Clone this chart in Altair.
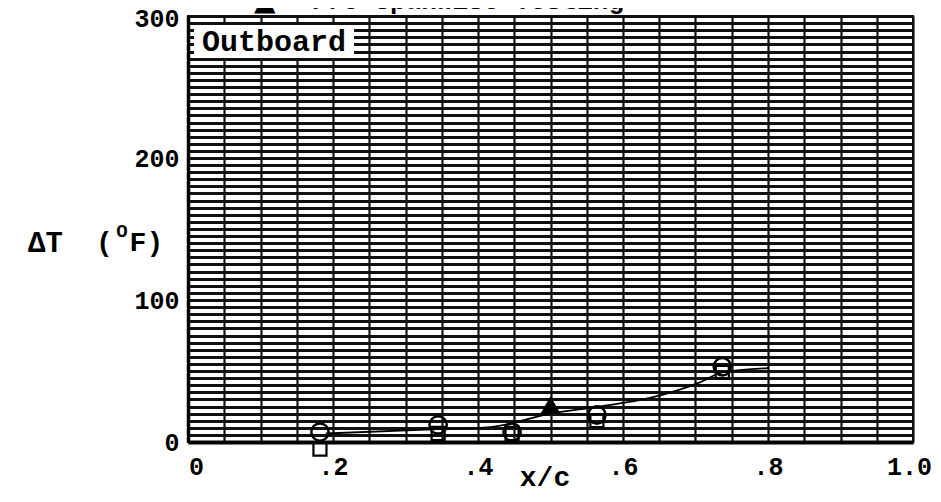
import altair as alt
import pandas as pd

# ---- data ----
circle_x = [0.182, 0.345, 0.447, 0.564, 0.737]
circle_y = [7, 12, 7, 19, 53]
square_x = [0.182, 0.345, 0.447, 0.564, 0.737]
square_y = [-5, 6, 6, 15, 49]
tri_x = [0.50]
tri_y = [26]
curve_x = [0.19, 0.345, 0.417, 0.50, 0.568, 0.637, 0.706, 0.737, 0.80]
curve_y = [6, 9, 10.5, 20, 25, 31, 42, 49, 52]

x_ticks = [i / 20 for i in range(21)]
y_ticks = list(range(0, 301, 5))

FONT = "Liberation Mono"

circles = pd.DataFrame({"x": circle_x, "y": circle_y})
squares = pd.DataFrame({"x": square_x, "y": square_y})
tris = pd.DataFrame({"x": tri_x, "y": tri_y})
curve = pd.DataFrame({"x": curve_x, "y": curve_y})

xs = alt.Scale(domain=[0, 1], nice=False, zero=False)
ys = alt.Scale(domain=[0, 300], nice=False, zero=False)

x_axis = alt.Axis(
    values=x_ticks, grid=True, gridColor="#111", gridWidth=2.2,
    tickSize=0, domain=True, domainColor="#000", domainWidth=4,
    labelExpr="round(datum.value*20) % 4 == 0 ? (datum.value == 0 ? '0' : (datum.value == 1 ? '1.0' : replace(format(datum.value, '.1f'), '0.', '.'))) : ''",
    labelFont=FONT, labelFontSize=25, labelFontWeight="bold", labelColor="#000",
    labelPadding=12, labelFlush=False, labelOverlap=False, title=None,
    labelOffset={"condition": [{"test": "datum.value >= 1", "value": -4},
                               {"test": "datum.value <= 0", "value": 8}],
                 "value": 0},
)
y_axis = alt.Axis(
    values=y_ticks, grid=True, gridColor="#111", gridWidth=2.8,
    tickSize=0, domain=True, domainColor="#000", domainWidth=3.5,
    labelExpr="datum.value % 100 == 0 ? datum.label : ''",
    labelFont=FONT, labelFontSize=25, labelFontWeight="bold", labelColor="#000",
    labelPadding=9, labelFlush=False, labelOverlap=False, title=None,
    labelOffset={"condition": {"test": "datum.value >= 300", "value": 2}, "value": 0},
)

base_x = alt.X("x:Q", scale=xs, axis=x_axis)
base_y = alt.Y("y:Q", scale=ys, axis=y_axis)

line = alt.Chart(curve).mark_line(
    color="#000", strokeWidth=1.8, interpolate="monotone", clip=False
).encode(x=base_x, y=base_y)

circ = alt.Chart(circles).mark_point(
    shape="circle", filled=False, color="#000", size=300, strokeWidth=2.5, opacity=1
).encode(x=base_x, y=base_y)

sq = alt.Chart(squares).mark_point(
    shape="square", filled=False, color="#000", size=170, strokeWidth=2.2, opacity=1
).encode(x=base_x, y=base_y)

tri = alt.Chart(tris).mark_point(
    shape="triangle-up", filled=True, color="#000", size=420, opacity=1
).encode(x=base_x, y=base_y)

# "Outboard" label with white box
ann = pd.DataFrame({"t": ["Outboard"]})
box = alt.Chart(ann).mark_rect(color="white").encode(
    x=alt.value(6), x2=alt.value(166), y=alt.value(9), y2=alt.value(42)
)
outboard = alt.Chart(ann).mark_text(
    font=FONT, fontSize=30, fontWeight="bold", color="#000", align="left", baseline="middle"
).encode(text="t:N", x=alt.value(14), y=alt.value(26))

# x-axis title
xt = alt.Chart(pd.DataFrame({"t": ["x/c"]})).mark_text(
    font=FONT, fontSize=28, fontWeight="bold", color="#000", align="center", baseline="alphabetic"
).encode(text="t:N", x=alt.value(357), y=alt.value(470))

# y-axis title pieces
dt = alt.Chart(pd.DataFrame({"t": ["ΔT"]})).mark_text(
    font=FONT, fontSize=29, fontWeight="bold", color="#000", align="left", baseline="middle"
).encode(text="t:N", x=alt.value(-160), y=alt.value(227))
unit = alt.Chart(pd.DataFrame({"t": ["(  F)"]})).mark_text(
    font=FONT, fontSize=28, fontWeight="bold", color="#000", align="left", baseline="middle"
).encode(text="t:N", x=alt.value(-92), y=alt.value(227))
deg = alt.Chart(pd.DataFrame({"t": ["O"]})).mark_text(
    font=FONT, fontSize=19, fontWeight="bold", color="#000", align="center", baseline="middle"
).encode(text="t:N", x=alt.value(-66), y=alt.value(215))

# clipped legend line at the very top
leg_sym = alt.Chart(pd.DataFrame({"t": ["▲"]})).mark_text(
    font="DejaVu Sans", fontSize=28, color="#000", align="left", baseline="alphabetic"
).encode(text="t:N", x=alt.value(66), y=alt.value(-6))
leg_txt = alt.Chart(pd.DataFrame({"t": ["Pre Spanwise Testing"]})).mark_text(
    font=FONT, fontSize=26, fontWeight="bold", color="#000", align="left", baseline="alphabetic"
).encode(text="t:N", x=alt.value(124), y=alt.value(-7))

chart = alt.layer(
    line, sq, circ, tri, box, outboard, xt, dt, unit, deg, leg_sym, leg_txt
).properties(
    width=725, height=426,
    autosize=alt.AutoSizeParams(type="none"),
    padding={"left": 180, "top": 8, "right": 20, "bottom": 52},
    background="white",
).configure_view(stroke="#000", strokeWidth=2)

chart.save("out.html", embed_options={"renderer": "svg", "actions": False})
